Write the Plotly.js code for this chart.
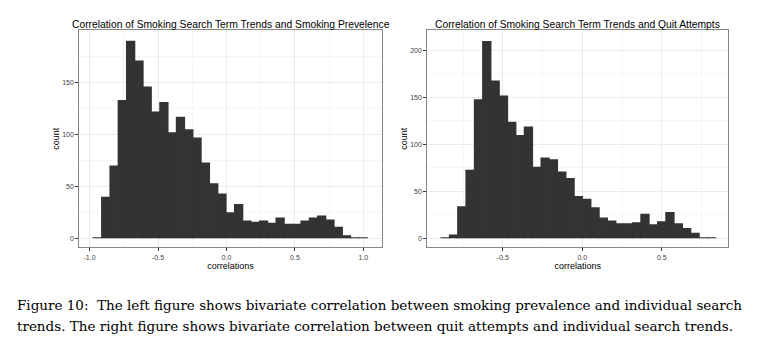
<!DOCTYPE html>
<html>
<head>
<meta charset="utf-8">
<script src="https://cdn.plot.ly/plotly-3.0.1.min.js"></script>
<style>
  html, body { margin: 0; padding: 0; background: #ffffff; }
  #chart { width: 778px; height: 348px; }
</style>
</head>
<body>
<div id="chart"></div>
<script>
// ---- Data ----
// Left: correlation with smoking prevalence (bin centres and counts)
const leftCenters = [-0.943, -0.882, -0.821, -0.761, -0.700, -0.639, -0.579, -0.518, -0.457, -0.397,
                     -0.336, -0.275, -0.215, -0.154, -0.093, -0.033, 0.028, 0.089, 0.149, 0.210,
                     0.271, 0.331, 0.392, 0.453, 0.513, 0.574, 0.635, 0.695, 0.756, 0.817,
                     0.877, 0.938, 0.999];
const leftCounts  = [1, 40, 70, 133, 190, 171, 146, 122, 131, 102,
                     117, 105, 97, 73, 53, 43, 25, 33, 17, 16,
                     17, 15, 20, 14, 14, 17, 20, 22, 18, 11,
                     3, 1, 1];
const leftBinWidth = 0.0607;

// Right: correlation with quit attempts (bin centres and counts)
const rightCenters = [-0.863, -0.810, -0.758, -0.706, -0.653, -0.601, -0.548, -0.496, -0.444, -0.391,
                      -0.339, -0.287, -0.234, -0.182, -0.129, -0.077, -0.025, 0.028, 0.080, 0.132,
                      0.185, 0.237, 0.290, 0.342, 0.394, 0.447, 0.499, 0.551, 0.604, 0.656,
                      0.709, 0.761, 0.813];
const rightCounts  = [1, 4, 34, 73, 148, 210, 168, 152, 124, 110,
                      119, 76, 86, 84, 71, 64, 45, 42, 33, 22,
                      19, 16, 16, 17, 26, 15, 18, 28, 16, 11,
                      6, 1, 1];
const rightBinWidth = 0.0524;

// Tick labels
const leftXTicks  = [-1.0, -0.5, 0.0, 0.5, 1.0];
const leftXLabels = ['-1.0', '-0.5', '0.0', '0.5', '1.0'];
const rightXTicks  = [-0.5, 0.0, 0.5];
const rightXLabels = ['-0.5', '0.0', '0.5'];
const leftYTicks  = [0, 50, 100, 150];
const rightYTicks = [0, 50, 100, 150, 200];
const xMinor = [-0.75, -0.25, 0.25, 0.75];
const yMinor = [25, 75, 125, 175];

const leftTitle  = 'Correlation of Smoking Search Term Trends and Smoking Prevelence';
const rightTitle = 'Correlation of Smoking Search Term Trends and Quit Attempts';
const captionLine1 = 'Figure 10:&nbsp; The left figure shows bivariate correlation between smoking prevalence and individual search';
const captionLine2 = 'trends. The right figure shows bivariate correlation between quit attempts and individual search trends.';

// ---- Plot ----
const W = 778, H = 348;
const barColor = '#333333';
const overlap = 1.12; // widen bars a touch so neighbouring bins touch without hairline gaps

const traces = [
  { type: 'bar', x: leftCenters, y: leftCounts, width: leftBinWidth * overlap,
    marker: { color: barColor, line: { width: 0 } }, xaxis: 'x', yaxis: 'y',
    hoverinfo: 'x+y', showlegend: false },
  { type: 'bar', x: rightCenters, y: rightCounts, width: rightBinWidth * overlap,
    marker: { color: barColor, line: { width: 0 } }, xaxis: 'x2', yaxis: 'y2',
    hoverinfo: 'x+y', showlegend: false }
];

function axisBase() {
  return {
    showline: true, mirror: true, linecolor: '#858585', linewidth: 1,
    showgrid: true, gridcolor: '#ebebeb', gridwidth: 1,
    zeroline: false,
    ticks: 'outside', ticklen: 3, tickwidth: 1, tickcolor: '#333333',
    tickfont: { family: 'Liberation Sans, Arial, sans-serif', size: 7, color: '#404040' },
    tickmode: 'array',
    fixedrange: true
  };
}

const xTitleFont = { family: 'Liberation Sans, Arial, sans-serif', size: 9, color: '#000000' };
const capFont = { family: 'DejaVu Serif, serif', size: 13.5, color: '#000000' };

const layout = {
  width: W, height: H,
  margin: { l: 0, r: 0, t: 0, b: 0 },
  paper_bgcolor: '#ffffff', plot_bgcolor: '#ffffff',
  showlegend: false,
  barmode: 'overlay',
  xaxis: Object.assign(axisBase(), {
    domain: [79.3 / W, 381.7 / W], range: [-1.075, 1.134], anchor: 'y',
    tickvals: leftXTicks, ticktext: leftXLabels,
    minor: { tickmode: 'array', tickvals: xMinor, showgrid: true, gridcolor: '#f6f6f6', ticks: '' },
    title: { text: 'correlations', font: xTitleFont, standoff: 0 }
  }),
  yaxis: Object.assign(axisBase(), {
    domain: [(H - 247.3) / H, (H - 30) / H], range: [-8.7, 200.4], anchor: 'x',
    tickvals: leftYTicks, ticktext: leftYTicks.map(String),
    minor: { tickmode: 'array', tickvals: yMinor, showgrid: true, gridcolor: '#f6f6f6', ticks: '' },
    title: { text: 'count', font: xTitleFont, standoff: 1 }
  }),
  xaxis2: Object.assign(axisBase(), {
    domain: [427.3 / W, 728.3 / W], range: [-0.975, 0.918], anchor: 'y2',
    tickvals: rightXTicks, ticktext: rightXLabels,
    minor: { tickmode: 'array', tickvals: xMinor, showgrid: true, gridcolor: '#f6f6f6', ticks: '' },
    title: { text: 'correlations', font: xTitleFont, standoff: 0 }
  }),
  yaxis2: Object.assign(axisBase(), {
    domain: [(H - 247.3) / H, (H - 30) / H], range: [-9.6, 221.6], anchor: 'x2',
    tickvals: rightYTicks, ticktext: rightYTicks.map(String),
    minor: { tickmode: 'array', tickvals: yMinor, showgrid: true, gridcolor: '#f6f6f6', ticks: '' },
    title: { text: 'count', font: xTitleFont, standoff: 1 }
  }),
  annotations: [
    { text: leftTitle, xref: 'x domain', yref: 'paper', x: 0.5, y: (H - 24) / H,
      xanchor: 'center', yanchor: 'middle', showarrow: false,
      font: { family: 'Liberation Sans, Arial, sans-serif', size: 10.3, color: '#000000' } },
    { text: rightTitle, xref: 'x2 domain', yref: 'paper', x: 0.5, y: (H - 24) / H,
      xanchor: 'center', yanchor: 'middle', showarrow: false,
      font: { family: 'Liberation Sans, Arial, sans-serif', size: 10.3, color: '#000000' } },
    { text: captionLine1, xref: 'paper', yref: 'paper', x: 15 / W, y: (H - 305) / H,
      xanchor: 'left', yanchor: 'middle', showarrow: false, font: capFont },
    { text: captionLine2, xref: 'paper', yref: 'paper', x: 15 / W, y: (H - 326) / H,
      xanchor: 'left', yanchor: 'middle', showarrow: false, font: capFont }
  ]
};

Plotly.newPlot('chart', traces, layout, { displayModeBar: false, staticPlot: true });
</script>
</body>
</html>
